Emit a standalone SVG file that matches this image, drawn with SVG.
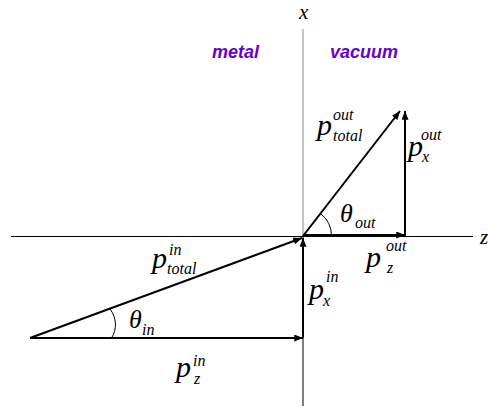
<svg xmlns="http://www.w3.org/2000/svg" width="488" height="407" viewBox="0 0 488 407">
<style>
.m{font-family:"Liberation Serif","Times New Roman",serif;font-style:italic;fill:#000}
.p{font-size:30px}
.s{font-size:16px}
.t{font-size:26px}
.ax{font-size:21px}
.reg{font-family:"Liberation Sans",Arial,sans-serif;font-weight:bold;font-style:italic;font-size:18px;fill:#6600CC}
.vec{stroke:#000;stroke-width:2;fill:none;marker-end:url(#ah)}
.arc{stroke:#000;stroke-width:1;fill:none}
</style>
<defs>
<marker id="ah" markerUnits="userSpaceOnUse" viewBox="0 0 10 8" refX="10" refY="4" markerWidth="9" markerHeight="7" orient="auto">
<path d="M0 0 L10 4 L0 8 Z" fill="#000"/>
</marker>
</defs>
<rect width="488" height="407" fill="#fff"/>
<g id="axes">
<line x1="303" y1="29" x2="303" y2="237" stroke="#888" stroke-width="1"/>
<line x1="303" y1="237" x2="303" y2="406" stroke="#000" stroke-width="1"/>
<line x1="11" y1="236.5" x2="473" y2="236.5" stroke="#000" stroke-width="1"/>
<text class="m ax" x="299" y="19">x</text>
<text class="m ax" x="480" y="244">z</text>
</g>
<g id="regions">
<text class="reg" x="212" y="57.5">metal</text>
<text class="reg" x="330" y="57.5">vacuum</text>
</g>
<g id="connectors">
<line class="vec" x1="303" y1="236" x2="400" y2="111"/>
<line class="vec" x1="405" y1="236" x2="405" y2="111"/>
<line class="vec" x1="303" y1="235" x2="405" y2="235"/>
<line class="vec" x1="30" y1="338" x2="302" y2="238"/>
<line class="vec" x1="303" y1="338" x2="303" y2="238"/>
<line class="vec" x1="30" y1="338" x2="303" y2="338"/>
<path class="arc" d="M331.5 236 A28.5 28.5 0 0 0 320.4 213.4"/>
<path class="arc" d="M111.5 338 C117 330 117 318 110 309"/>
</g>
<g id="p-total-out">
<text class="m p" x="317" y="135">p</text>
<text class="m s" x="333" y="120">out</text>
<text class="m s" x="333" y="141">total</text>
</g>
<g id="p-x-out">
<text class="m p" x="408" y="156">p</text>
<text class="m s" x="421" y="140">out</text>
<text class="m s" x="422" y="162">x</text>
</g>
<g id="theta-out">
<text class="m t" x="340" y="222">θ</text>
<text class="m s" x="355" y="228">out</text>
</g>
<g id="p-z-out">
<text class="m p" x="366" y="267">p</text>
<text class="m s" x="386" y="251">out</text>
<text class="m s" x="387" y="273">z</text>
</g>
<g id="p-total-in">
<text class="m p" x="152" y="268">p</text>
<text class="m s" x="169" y="255">in</text>
<text class="m s" x="167" y="274">total</text>
</g>
<g id="theta-in">
<text class="m t" x="129" y="328">θ</text>
<text class="m s" x="142" y="335">in</text>
</g>
<g id="p-x-in">
<text class="m p" x="309" y="299">p</text>
<text class="m s" x="326" y="282">in</text>
<text class="m s" x="323" y="306">x</text>
</g>
<g id="p-z-in">
<text class="m p" x="176" y="377">p</text>
<text class="m s" x="193" y="366">in</text>
<text class="m s" x="194" y="384">z</text>
</g>
</svg>
